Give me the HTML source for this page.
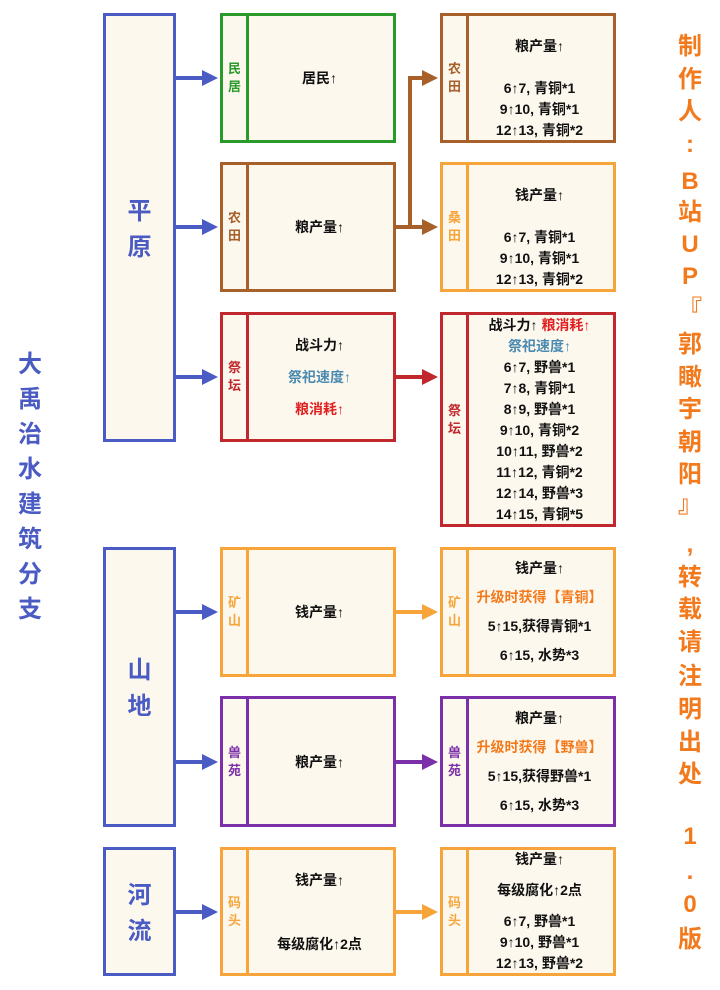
<!DOCTYPE html>
<html><head><meta charset="utf-8"><style>
body{margin:0;width:720px;height:990px;background:#fff;position:relative;overflow:hidden;font-family:"Liberation Sans","Noto Sans CJK SC",sans-serif;font-weight:bold}
.b{position:absolute;box-sizing:border-box;border:3px solid;background:#fdf8ee}
.s{position:absolute;left:0;top:0;bottom:0;width:23px;border-right:3px solid;display:flex;align-items:center;justify-content:center;font-size:13px;line-height:18px;text-align:center}
.c{position:absolute;left:23px;right:0;top:0;bottom:0;display:flex;flex-direction:column;align-items:center;justify-content:center;font-size:14px;color:#111;text-align:center}
.big{position:absolute;font-size:24px;color:#4a5bc4;text-align:center;line-height:36px}
.ch{position:absolute;width:40px;text-align:center;font-size:24px;line-height:28px;color:#f37a1c;transform:translateY(-50%)}
.lc{position:absolute;width:40px;text-align:center;font-size:24px;line-height:28px;color:#4a5bc4;transform:translateY(-50%)}
</style></head><body>
<svg width="720" height="990" style="position:absolute;left:0;top:0">
<defs>
<marker id="mb" markerWidth="4" markerHeight="4" refX="2.5" refY="2" orient="auto"><path d="M0,0 L4,2 L0,4 Z" fill="#4a5bc4"/></marker>
<marker id="mbr" markerWidth="4" markerHeight="4" refX="2.5" refY="2" orient="auto"><path d="M0,0 L4,2 L0,4 Z" fill="#a8602a"/></marker>
<marker id="mr" markerWidth="4" markerHeight="4" refX="2.5" refY="2" orient="auto"><path d="M0,0 L4,2 L0,4 Z" fill="#c0282d"/></marker>
<marker id="mo" markerWidth="4" markerHeight="4" refX="2.5" refY="2" orient="auto"><path d="M0,0 L4,2 L0,4 Z" fill="#f7a53a"/></marker>
<marker id="mp" markerWidth="4" markerHeight="4" refX="2.5" refY="2" orient="auto"><path d="M0,0 L4,2 L0,4 Z" fill="#7b2fa8"/></marker>
</defs>
<g stroke="#4a5bc4" stroke-width="4" fill="none">
<line x1="176" y1="78" x2="212" y2="78" marker-end="url(#mb)"/>
<line x1="176" y1="227" x2="212" y2="227" marker-end="url(#mb)"/>
<line x1="176" y1="377" x2="212" y2="377" marker-end="url(#mb)"/>
<line x1="176" y1="612" x2="212" y2="612" marker-end="url(#mb)"/>
<line x1="176" y1="762" x2="212" y2="762" marker-end="url(#mb)"/>
<line x1="176" y1="912" x2="212" y2="912" marker-end="url(#mb)"/>
</g>
<g stroke="#a8602a" stroke-width="4" fill="none">
<line x1="396" y1="227" x2="432" y2="227" marker-end="url(#mbr)"/>
<line x1="410" y1="227" x2="410" y2="78"/>
<line x1="408" y1="78" x2="432" y2="78" marker-end="url(#mbr)"/>
</g>
<line x1="396" y1="377" x2="432" y2="377" stroke="#c0282d" stroke-width="4" marker-end="url(#mr)"/>
<line x1="396" y1="612" x2="432" y2="612" stroke="#f7a53a" stroke-width="4" marker-end="url(#mo)"/>
<line x1="396" y1="762" x2="432" y2="762" stroke="#7b2fa8" stroke-width="4" marker-end="url(#mp)"/>
<line x1="396" y1="912" x2="432" y2="912" stroke="#f7a53a" stroke-width="4" marker-end="url(#mo)"/>
</svg>

<div class="b" style="left:103px;top:13px;width:73px;height:429px;border-color:#4a5bc4"><div class="big" style="left:0;right:0;top:178px">平<br>原</div></div>
<div class="b" style="left:103px;top:547px;width:73px;height:280px;border-color:#4a5bc4"><div class="big" style="left:0;right:0;top:103px">山<br>地</div></div>
<div class="b" style="left:103px;top:847px;width:73px;height:129px;border-color:#4a5bc4"><div class="big" style="left:0;right:0;top:28px">河<br>流</div></div>

<div class="b" style="left:220px;top:13px;width:176px;height:130px;border-color:#2a9a2a"><div class="s" style="border-color:#2a9a2a;color:#2a9a2a">民<br>居</div><div class="c">居民↑</div></div>
<div class="b" style="left:220px;top:162px;width:176px;height:130px;border-color:#a8602a"><div class="s" style="border-color:#a8602a;color:#a8602a">农<br>田</div><div class="c">粮产量↑</div></div>
<div class="b" style="left:220px;top:312px;width:176px;height:130px;border-color:#c0282d"><div class="s" style="border-color:#c0282d;color:#c0282d">祭<br>坛</div><div class="c" style="line-height:32px">战斗力↑<br><span style="color:#4a8ab0">祭祀速度↑</span><span style="color:#e02020">粮消耗↑</span></div></div>
<div class="b" style="left:220px;top:547px;width:176px;height:130px;border-color:#f7a53a"><div class="s" style="border-color:#f7a53a;color:#f7a53a">矿<br>山</div><div class="c">钱产量↑</div></div>
<div class="b" style="left:220px;top:696px;width:176px;height:131px;border-color:#7b2fa8"><div class="s" style="border-color:#7b2fa8;color:#7b2fa8">兽<br>苑</div><div class="c">粮产量↑</div></div>
<div class="b" style="left:220px;top:847px;width:176px;height:129px;border-color:#f7a53a"><div class="s" style="border-color:#f7a53a;color:#f7a53a">码<br>头</div><div class="c" style="line-height:64px">钱产量↑<br>每级腐化↑2点</div></div>

<div class="b" style="left:440px;top:13px;width:176px;height:130px;border-color:#a8602a"><div class="s" style="border-color:#a8602a;color:#a8602a">农<br>田</div><div class="c" style="justify-content:flex-start;padding-top:20px;line-height:21px">粮产量↑<br><br>6↑7, 青铜*1<br>9↑10, 青铜*1<br>12↑13, 青铜*2</div></div>
<div class="b" style="left:440px;top:162px;width:176px;height:130px;border-color:#f7a53a"><div class="s" style="border-color:#f7a53a;color:#f7a53a">桑<br>田</div><div class="c" style="justify-content:flex-start;padding-top:20px;line-height:21px">钱产量↑<br><br>6↑7, 青铜*1<br>9↑10, 青铜*1<br>12↑13, 青铜*2</div></div>
<div class="b" style="left:440px;top:312px;width:176px;height:215px;border-color:#c0282d"><div class="s" style="border-color:#c0282d;color:#c0282d">祭<br>坛</div><div class="c" style="line-height:21px">
<div>战斗力↑ <span style="color:#e02020">粮消耗↑</span></div><div style="color:#4a8ab0">祭祀速度↑</div>
<div>6↑7, 野兽*1</div><div>7↑8, 青铜*1</div><div>8↑9, 野兽*1</div><div>9↑10, 青铜*2</div><div>10↑11, 野兽*2</div><div>11↑12, 青铜*2</div><div>12↑14, 野兽*3</div><div>14↑15, 青铜*5</div></div></div>
<div class="b" style="left:440px;top:547px;width:176px;height:130px;border-color:#f7a53a"><div class="s" style="border-color:#f7a53a;color:#f7a53a">矿<br>山</div><div class="c" style="line-height:29px"><div>钱产量↑</div><div style="color:#f37a1c">升级时获得【青铜】</div><div>5↑15,获得青铜*1</div><div>6↑15, 水势*3</div></div></div>
<div class="b" style="left:440px;top:696px;width:176px;height:131px;border-color:#7b2fa8"><div class="s" style="border-color:#7b2fa8;color:#7b2fa8">兽<br>苑</div><div class="c" style="line-height:29px"><div>粮产量↑</div><div style="color:#f37a1c">升级时获得【野兽】</div><div>5↑15,获得野兽*1</div><div>6↑15, 水势*3</div></div></div>
<div class="b" style="left:440px;top:847px;width:176px;height:129px;border-color:#f7a53a"><div class="s" style="border-color:#f7a53a;color:#f7a53a">码<br>头</div><div class="c" style="line-height:21px"><div style="margin-bottom:10px">钱产量↑</div><div style="margin-bottom:10px">每级腐化↑2点</div><div>6↑7, 野兽*1</div><div>9↑10, 野兽*1</div><div>12↑13, 野兽*2</div></div></div>

<div class="lc" style="left:10px;top:365px">大</div>
<div class="lc" style="left:10px;top:400px">禹</div>
<div class="lc" style="left:10px;top:435px">治</div>
<div class="lc" style="left:10px;top:470px">水</div>
<div class="lc" style="left:10px;top:505px">建</div>
<div class="lc" style="left:10px;top:540px">筑</div>
<div class="lc" style="left:10px;top:575px">分</div>
<div class="lc" style="left:10px;top:610px">支</div>

<div class="ch" style="left:670px;top:47px">制</div>
<div class="ch" style="left:670px;top:80px">作</div>
<div class="ch" style="left:670px;top:112px">人</div>
<div class="ch" style="left:670px;top:145px">:</div>
<div class="ch" style="left:670px;top:182px">B</div>
<div class="ch" style="left:670px;top:213px">站</div>
<div class="ch" style="left:670px;top:245px">U</div>
<div class="ch" style="left:670px;top:277px">P</div>
<div class="ch" style="left:670px;top:310px">『</div>
<div class="ch" style="left:670px;top:345px">郭</div>
<div class="ch" style="left:670px;top:378px">瞰</div>
<div class="ch" style="left:670px;top:410px">宇</div>
<div class="ch" style="left:670px;top:443px">朝</div>
<div class="ch" style="left:670px;top:475px">阳</div>
<div class="ch" style="left:670px;top:505px">』</div>
<div class="ch" style="left:670px;top:545px">,</div>
<div class="ch" style="left:670px;top:578px">转</div>
<div class="ch" style="left:670px;top:610px">载</div>
<div class="ch" style="left:670px;top:643px">请</div>
<div class="ch" style="left:670px;top:677px">注</div>
<div class="ch" style="left:670px;top:710px">明</div>
<div class="ch" style="left:670px;top:743px">出</div>
<div class="ch" style="left:670px;top:775px">处</div>
<div class="ch" style="left:670px;top:837px">1</div>
<div class="ch" style="left:670px;top:872px">.</div>
<div class="ch" style="left:670px;top:905px">0</div>
<div class="ch" style="left:670px;top:940px">版</div>
</body></html>
